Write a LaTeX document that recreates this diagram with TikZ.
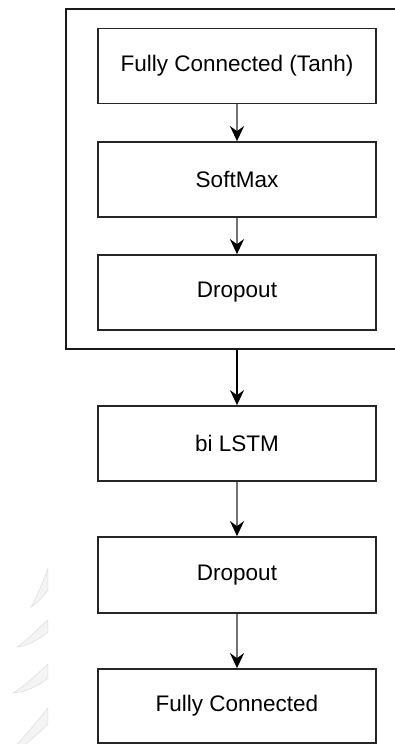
\documentclass[tikz,border=0pt]{standalone}
\usepackage{fontspec}
\setmainfont{Liberation Sans}
\usetikzlibrary{arrows.meta}

\tikzset{
  layer/.style={draw=black!85, line width=1.7pt, fill=white,
    minimum width=278pt, minimum height=75pt, inner sep=0pt,
    font=\fontsize{22.5}{27}\selectfont},
  groupbox/.style={draw=black!90, line width=1.5pt,
    minimum width=342pt, minimum height=340pt, inner sep=0pt},
  flow/.style={draw=black!55, line width=2.3pt,
    -{Stealth[length=15pt, width=14pt, inset=5pt, color=black]}},
  mainflow/.style={draw=black, line width=1.4pt,
    -{Stealth[length=15pt, width=14pt, inset=5pt]}},
  leaf/.style={fill=gray!9, draw=gray!25, line width=0.6pt}
}

\begin{document}
\begin{tikzpicture}[x=1pt, y=-1pt]
  \useasboundingbox (0,0) rectangle (395,744);
  \clip (0,0) rectangle (395,744);

  % faint leaf marks in the lower left corner
  \begin{scope}
    \clip (0,560) rectangle (48,744);
    \path[leaf] (31,607) .. controls (37,596) and (43,582) .. (48,568)
      -- (48,590) .. controls (42,598) and (36,604) .. cycle;
    \path[leaf] (17,647) .. controls (28,640) and (38,628) .. (48,620)
      -- (48,632) .. controls (38,640) and (28,646) .. cycle;
    \path[leaf] (13,693) .. controls (25,686) and (37,674) .. (48,664)
      -- (48,678) .. controls (37,687) and (25,692) .. cycle;
    \path[leaf] (17,744) .. controls (27,734) and (38,720) .. (48,708)
      -- (48,724) .. controls (38,734) and (28,742) .. (22,748) -- cycle;
  \end{scope}

  % attention block
  \node[groupbox] (grp) at (237,179) {};
  \node[layer] (fct) at (237,66)    {Fully Connected (Tanh)};
  \node[layer] (soft) at (237,179.5) {SoftMax};
  \node[layer] (dropa) at (237,292.5) {Dropout};

  % recurrent part
  \node[layer] (lstm) at (237,443.5) {bi LSTM};
  \node[layer, minimum height=76pt] (dropb) at (237,575) {Dropout};
  \node[layer, minimum height=74pt] (fco) at (237,706) {Fully Connected};

  \draw[flow] (fct) -- (soft);
  \draw[flow] (soft) -- (dropa);
  \draw[mainflow] (grp) -- (lstm);
  \draw[flow] (lstm) -- (dropb);
  \draw[flow] (dropb) -- (fco);
\end{tikzpicture}
\end{document}
